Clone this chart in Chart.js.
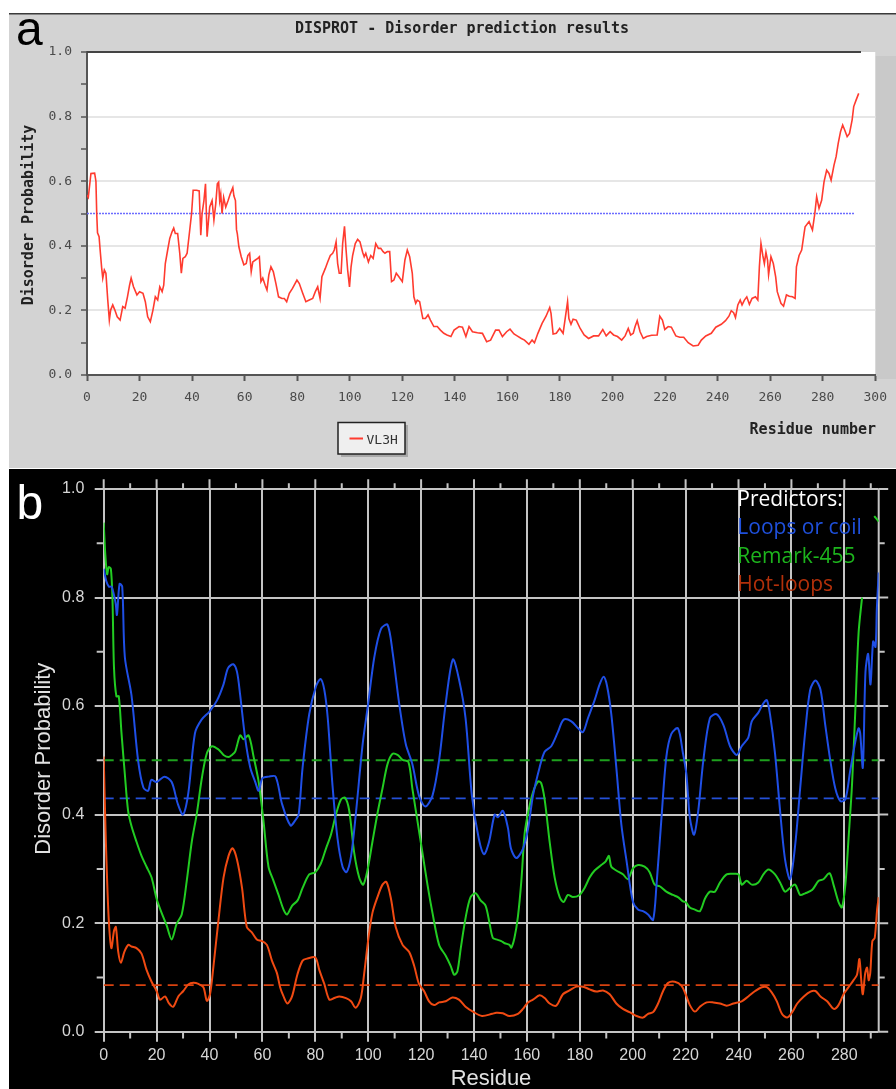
<!DOCTYPE html>
<html>
<head>
<meta charset="utf-8">
<title>Disorder prediction</title>
<script src="https://cdn.jsdelivr.net/npm/chart.js@4.4.0/dist/chart.umd.min.js"></script>
<style>
    body { margin: 0; width: 896px; height: 1089px; background: #fff; position: relative; overflow: hidden; }
    #panelA { position: absolute; left: 9px; top: 13px; }
    #panelB { position: absolute; left: 9px; top: 469px; }
</style>
</head>
<body>
<canvas id="panelA" width="887" height="455"></canvas>
<canvas id="panelB" width="887" height="620"></canvas>
<script>
// Panel a: DISPROT VL3H prediction
const vl3hResidue = [0, 0.5, 1.5, 2.9, 3.4, 3.7, 4.0, 4.6, 5.0, 5.6, 6.0, 6.6, 7.2, 7.9, 8.5, 9.0, 9.8, 10.6, 11.5, 12.6, 13.6, 14.5, 15.4, 16.2, 16.8, 17.7, 19.0, 20.0, 21.3, 22.2, 23.1, 24.1, 25.1, 26.0, 26.9, 27.7, 28.6, 29.2, 29.8, 30.7, 31.5, 32.4, 33.0, 33.6, 34.5, 35.3, 35.9, 36.5, 37.4, 38.1, 39.1, 39.8, 40.4, 41.7, 42.7, 43.3, 43.8, 44.5, 45.1, 45.7, 46.7, 47.6, 48.3, 49.0, 49.6, 50.1, 50.5, 50.9, 51.4, 52.0, 52.8, 53.7, 54.5, 55.5, 55.9, 56.5, 56.9, 57.2, 57.8, 58.7, 59.7, 60.6, 61.2, 61.9, 62.5, 63.1, 64.1, 65.0, 65.6, 66.2, 66.9, 67.8, 68.5, 69.2, 70.0, 70.9, 71.9, 72.9, 74.2, 75.1, 76.0, 77.0, 78.2, 79.9, 80.8, 82.1, 83.3, 84.6, 85.9, 86.9, 87.8, 88.7, 89.4, 90.7, 91.6, 92.6, 93.5, 94.1, 94.8, 95.4, 96.0, 96.7, 97.3, 98.0, 98.6, 99.2, 99.9, 100.5, 101.1, 102.1, 103.0, 103.9, 104.9, 105.5, 106.1, 107.1, 108.0, 108.9, 109.9, 110.9, 111.8, 112.7, 113.4, 114.3, 115.2, 115.9, 116.8, 117.7, 118.7, 120.0, 121.0, 121.9, 122.8, 123.8, 124.4, 125.1, 125.7, 126.6, 127.3, 127.8, 128.8, 129.8, 130.7, 132.0, 133.3, 134.5, 135.8, 137.0, 138.5, 139.7, 141.6, 142.9, 144.2, 145.4, 146.7, 148.6, 150.5, 152.1, 153.6, 155.5, 156.8, 158.1, 159.7, 161.0, 162.5, 163.7, 165.3, 166.5, 168.2, 169.4, 170.3, 171.6, 173.2, 174.7, 176.1, 176.6, 177.4, 178.6, 179.9, 181.2, 182.0, 182.9, 183.4, 184.2, 185.0, 186.2, 187.7, 189.2, 190.9, 192.8, 194.7, 196.3, 197.6, 199.1, 200.4, 201.9, 203.5, 204.8, 206.0, 206.9, 207.9, 208.6, 209.4, 210.5, 211.7, 213.0, 214.9, 217.0, 218.0, 219.0, 219.9, 221.2, 222.4, 224.1, 225.6, 227.1, 228.8, 230.7, 232.6, 233.8, 235.5, 237.6, 239.3, 241.4, 243.0, 244.3, 245.2, 246.1, 246.8, 247.7, 248.6, 249.3, 250.2, 251.1, 252.1, 253.1, 254.4, 255.3, 255.9, 256.5, 257.2, 257.8, 258.4, 259.0, 259.4, 260.3, 261.2, 262.1, 262.7, 264.1, 265.1, 266.2, 267.3, 268.5, 269.5, 270.0, 271.0, 272.0, 272.9, 273.3, 274.8, 276.1, 277.0, 277.7, 278.6, 279.6, 280.5, 281.5, 282.4, 283.2, 284.3, 285.1, 285.9, 286.8, 287.6, 288.4, 289.3, 290.2, 291.2, 291.8, 292.7, 293.7];
const vl3hValue = [0.557, 0.55, 0.624, 0.625, 0.60, 0.50, 0.44, 0.428, 0.387, 0.33, 0.30, 0.325, 0.315, 0.232, 0.17, 0.201, 0.217, 0.201, 0.18, 0.17, 0.212, 0.207, 0.242, 0.278, 0.30, 0.273, 0.248, 0.258, 0.253, 0.227, 0.18, 0.165, 0.201, 0.242, 0.232, 0.273, 0.258, 0.278, 0.345, 0.387, 0.423, 0.444, 0.455, 0.438, 0.438, 0.377, 0.315, 0.361, 0.366, 0.377, 0.449, 0.50, 0.572, 0.572, 0.57, 0.433, 0.50, 0.54, 0.592, 0.428, 0.52, 0.54, 0.48, 0.53, 0.592, 0.597, 0.54, 0.56, 0.50, 0.55, 0.52, 0.54, 0.56, 0.58, 0.555, 0.54, 0.45, 0.438, 0.397, 0.366, 0.341, 0.345, 0.37, 0.377, 0.32, 0.35, 0.356, 0.361, 0.366, 0.289, 0.30, 0.278, 0.263, 0.31, 0.335, 0.32, 0.283, 0.242, 0.237, 0.237, 0.227, 0.253, 0.268, 0.294, 0.283, 0.253, 0.227, 0.232, 0.237, 0.258, 0.273, 0.237, 0.304, 0.33, 0.35, 0.37, 0.377, 0.387, 0.412, 0.345, 0.315, 0.315, 0.407, 0.46, 0.387, 0.325, 0.273, 0.335, 0.37, 0.407, 0.42, 0.412, 0.38, 0.366, 0.377, 0.35, 0.37, 0.361, 0.407, 0.392, 0.392, 0.382, 0.377, 0.382, 0.382, 0.289, 0.294, 0.315, 0.304, 0.289, 0.356, 0.387, 0.366, 0.315, 0.242, 0.222, 0.232, 0.227, 0.196, 0.175, 0.175, 0.186, 0.17, 0.15, 0.15, 0.139, 0.129, 0.124, 0.119, 0.139, 0.15, 0.148, 0.119, 0.15, 0.134, 0.131, 0.129, 0.103, 0.108, 0.139, 0.139, 0.119, 0.134, 0.142, 0.127, 0.121, 0.113, 0.108, 0.095, 0.108, 0.10, 0.129, 0.16, 0.182, 0.209, 0.191, 0.127, 0.129, 0.144, 0.129, 0.175, 0.227, 0.175, 0.157, 0.173, 0.17, 0.144, 0.124, 0.113, 0.121, 0.121, 0.141, 0.121, 0.134, 0.124, 0.119, 0.108, 0.121, 0.144, 0.124, 0.129, 0.15, 0.168, 0.134, 0.113, 0.119, 0.123, 0.124, 0.182, 0.17, 0.141, 0.15, 0.148, 0.121, 0.117, 0.117, 0.10, 0.09, 0.092, 0.108, 0.121, 0.129, 0.148, 0.157, 0.168, 0.182, 0.199, 0.193, 0.178, 0.217, 0.232, 0.217, 0.232, 0.242, 0.219, 0.237, 0.242, 0.232, 0.335, 0.407, 0.37, 0.345, 0.38, 0.356, 0.31, 0.366, 0.345, 0.304, 0.258, 0.222, 0.213, 0.248, 0.244, 0.242, 0.237, 0.335, 0.37, 0.387, 0.438, 0.459, 0.475, 0.449, 0.50, 0.552, 0.516, 0.541, 0.598, 0.634, 0.624, 0.603, 0.65, 0.676, 0.717, 0.754, 0.774, 0.758, 0.738, 0.748, 0.79, 0.831, 0.851, 0.872];
const vl3hCutoffSpan = [0, 292.3];
const vl3hCutoff = [0.5, 0.5];

// Panel b: three predictors
const loopsResidue = [0, 1, 2, 3, 4.5, 5, 6, 7, 8, 10.5, 13, 15, 16.8, 18, 20, 23, 25.7, 28, 30, 32, 34.5, 37, 40, 42.8, 45.3, 47, 49, 50.4, 51.6, 53.5, 55.4, 57.3, 58.6, 60, 62.4, 65, 67.4, 70.6, 72.5, 73.7, 75.2, 77.7, 80.3, 82, 83.4, 84.7, 86.5, 88.4, 90.3, 91.8, 93.5, 95.3, 97.9, 100, 102.3, 104.8, 107.3, 109.2, 111.7, 114.2, 116.7, 119.2, 121.6, 124.3, 126.8, 129.3, 132, 134.3, 136.8, 139.2, 141.8, 143.8, 145.7, 147.8, 149, 150.9, 152.8, 154, 156, 158.5, 160.4, 162.3, 164.8, 166.7, 169.2, 171.7, 173.9, 176.8, 179.4, 181.2, 183.1, 185.6, 187.5, 189, 190.3, 191.9, 193.8, 195.7, 197.6, 200.1, 202, 203.9, 205.8, 207.7, 209, 210.8, 212.7, 214.6, 217.1, 219, 220.3, 221.6, 223.2, 224.8, 226.7, 229.2, 231.7, 234.3, 236.8, 239.3, 241.2, 243.7, 245, 247.5, 249.4, 250.7, 251.9, 253.8, 255.7, 257.6, 259.5, 261.4, 263.3, 265.2, 267.1, 269.1, 271, 272.8, 274.7, 276.6, 278.5, 280.4, 282.2, 284.1, 285.4, 286, 287, 288, 289, 289.9, 290.9, 291.8, 292.3, 293];
const loopsValue = [0.853, 0.83, 0.82, 0.82, 0.79, 0.768, 0.825, 0.82, 0.69, 0.62, 0.50, 0.45, 0.444, 0.464, 0.46, 0.47, 0.46, 0.42, 0.40, 0.44, 0.55, 0.575, 0.59, 0.61, 0.64, 0.67, 0.677, 0.663, 0.62, 0.54, 0.487, 0.46, 0.444, 0.467, 0.47, 0.47, 0.42, 0.38, 0.39, 0.40, 0.487, 0.585, 0.637, 0.65, 0.63, 0.578, 0.454, 0.356, 0.304, 0.294, 0.323, 0.40, 0.53, 0.605, 0.69, 0.742, 0.75, 0.70, 0.605, 0.53, 0.493, 0.435, 0.415, 0.435, 0.50, 0.605, 0.686, 0.65, 0.578, 0.435, 0.356, 0.327, 0.35, 0.40, 0.395, 0.407, 0.376, 0.337, 0.32, 0.337, 0.373, 0.435, 0.487, 0.516, 0.526, 0.552, 0.575, 0.572, 0.559, 0.552, 0.578, 0.611, 0.64, 0.654, 0.637, 0.585, 0.487, 0.382, 0.317, 0.239, 0.225, 0.222, 0.216, 0.206, 0.271, 0.389, 0.506, 0.549, 0.559, 0.513, 0.474, 0.395, 0.363, 0.408, 0.50, 0.578, 0.585, 0.565, 0.526, 0.51, 0.526, 0.542, 0.572, 0.588, 0.605, 0.611, 0.585, 0.513, 0.408, 0.317, 0.281, 0.343, 0.448, 0.552, 0.63, 0.647, 0.63, 0.565, 0.50, 0.448, 0.425, 0.428, 0.48, 0.533, 0.559, 0.55, 0.487, 0.663, 0.696, 0.64, 0.719, 0.709, 0.78, 0.846];

const remarkResidue = [0, 0.6, 1.3, 1.9, 2.7, 3.3, 3.9, 4.8, 5.7, 6.7, 8, 9.2, 10.5, 12.4, 14.3, 16.2, 18.1, 20, 21.9, 23.8, 25.7, 27.6, 29.5, 31.4, 33.3, 35.2, 37.1, 39, 40.9, 43.4, 45.3, 47.2, 48.5, 49.7, 51.6, 52.9, 54.8, 56.7, 58.6, 60.4, 62.3, 64.2, 66.1, 68, 69.3, 71.2, 73.3, 75.2, 77.7, 80, 82.1, 84, 85.9, 87.8, 89.7, 91.3, 92.8, 94.7, 96.6, 98.1, 99.7, 101.6, 103.5, 105.4, 107.3, 109.2, 111.1, 113, 115.2, 116.7, 118.6, 120.5, 122.4, 124.3, 126.8, 129.3, 131.2, 132.5, 133.7, 135, 136.9, 138.7, 140.6, 142.5, 144.4, 145.9, 147.1, 148.4, 150.3, 151.6, 153.4, 154.1, 155.3, 156.6, 157.9, 159.1, 160.4, 162.3, 164.2, 165.4, 166.7, 168.6, 170.5, 172.4, 173.9, 175.5, 177.4, 179.9, 181.8, 183.7, 185.6, 188.1, 189.8, 191, 191.9, 193.8, 196.3, 198.2, 200.1, 202, 204.5, 206.4, 208.3, 210.2, 212.7, 215.2, 217.1, 219, 220, 221.6, 223.5, 225.4, 227.3, 229.2, 231.1, 233, 235.5, 238.1, 240, 241.2, 243.1, 245, 247.5, 249.4, 251.3, 253.8, 255.7, 257.6, 259.5, 261.4, 263.3, 265.2, 267.8, 270.3, 272.1, 274.4, 275.9, 277.8, 279.1, 280.4, 281.6, 282.9, 284.1, 285.4, 286.7, 289, 291.3, 292.2, 293];
const remarkValue = [0.938, 0.88, 0.843, 0.856, 0.853, 0.80, 0.67, 0.618, 0.618, 0.552, 0.474, 0.408, 0.379, 0.35, 0.324, 0.304, 0.284, 0.245, 0.219, 0.196, 0.17, 0.199, 0.216, 0.278, 0.35, 0.402, 0.467, 0.513, 0.526, 0.52, 0.51, 0.506, 0.51, 0.516, 0.546, 0.539, 0.546, 0.506, 0.46, 0.389, 0.304, 0.278, 0.252, 0.225, 0.216, 0.232, 0.242, 0.265, 0.29, 0.294, 0.31, 0.337, 0.363, 0.40, 0.428, 0.431, 0.408, 0.33, 0.284, 0.271, 0.297, 0.35, 0.402, 0.448, 0.493, 0.512, 0.51, 0.501, 0.497, 0.448, 0.389, 0.33, 0.271, 0.219, 0.16, 0.14, 0.121, 0.105, 0.111, 0.154, 0.212, 0.248, 0.255, 0.242, 0.232, 0.199, 0.173, 0.17, 0.167, 0.163, 0.16, 0.155, 0.173, 0.212, 0.278, 0.363, 0.402, 0.441, 0.461, 0.458, 0.428, 0.35, 0.284, 0.248, 0.239, 0.252, 0.248, 0.252, 0.265, 0.284, 0.297, 0.307, 0.314, 0.324, 0.304, 0.297, 0.29, 0.281, 0.301, 0.307, 0.304, 0.294, 0.271, 0.268, 0.258, 0.252, 0.248, 0.24, 0.239, 0.229, 0.225, 0.222, 0.245, 0.258, 0.258, 0.275, 0.29, 0.291, 0.29, 0.271, 0.278, 0.271, 0.275, 0.29, 0.299, 0.29, 0.275, 0.258, 0.265, 0.271, 0.252, 0.255, 0.261, 0.278, 0.281, 0.292, 0.271, 0.239, 0.229, 0.271, 0.356, 0.454, 0.585, 0.735, 0.80, null, 0.95, 0.945, 0.94];

const hotResidue = [0, 0.6, 1.3, 2, 2.9, 3.9, 4.6, 5.5, 6.5, 7.8, 9.3, 10.5, 12.4, 14.3, 16.2, 18.1, 20, 21.3, 23.2, 24.7, 26.3, 28.2, 30.1, 32, 33.9, 35.8, 37.7, 39, 40.2, 41.5, 43.4, 45.3, 47.2, 48.7, 50.4, 52.3, 54.1, 56, 57.9, 59.8, 61.7, 63.6, 65.5, 66.7, 68, 69.5, 71.2, 73.2, 75.2, 77.1, 80, 81.5, 83.4, 85.3, 87.2, 89.1, 91.6, 93.5, 95.3, 97.2, 98.5, 100.1, 101.6, 103.5, 105.4, 106.9, 108.6, 110.4, 113, 115.5, 117.4, 119.2, 121.1, 123, 124.9, 126.8, 129.3, 131.8, 134.3, 136.8, 139.9, 143, 146.9, 148.4, 150.9, 153.4, 156.6, 158.5, 160.4, 162.3, 164.8, 166.7, 168.6, 171.1, 173.6, 176.1, 178.7, 181.2, 183.7, 186.2, 188.8, 191.3, 193.8, 196.3, 198.8, 201.4, 203.9, 205.8, 207.7, 209.6, 211.5, 213.4, 215.9, 218.4, 220, 221.6, 223.5, 225.4, 228, 230.5, 233, 235.5, 238.1, 241.2, 243.7, 246.3, 248.8, 250.7, 252.6, 254.5, 256.4, 258.4, 260.3, 262.2, 264.7, 267.2, 269.1, 271, 273.5, 276, 277.8, 279.7, 281.6, 283.5, 284.8, 285.7, 286.4, 287, 287.9, 288.6, 289.2, 289.8, 290.6, 291.5, 292.4, 293];
const hotValue = [0.507, 0.389, 0.278, 0.199, 0.154, 0.186, 0.193, 0.147, 0.127, 0.147, 0.16, 0.157, 0.154, 0.144, 0.114, 0.092, 0.075, 0.059, 0.065, 0.052, 0.046, 0.065, 0.075, 0.087, 0.09, 0.088, 0.082, 0.057, 0.069, 0.121, 0.206, 0.284, 0.324, 0.338, 0.317, 0.265, 0.193, 0.183, 0.17, 0.167, 0.16, 0.131, 0.108, 0.082, 0.065, 0.052, 0.065, 0.105, 0.131, 0.135, 0.137, 0.114, 0.088, 0.059, 0.062, 0.065, 0.062, 0.056, 0.044, 0.062, 0.108, 0.173, 0.219, 0.248, 0.271, 0.276, 0.245, 0.193, 0.16, 0.147, 0.121, 0.088, 0.075, 0.056, 0.049, 0.054, 0.056, 0.063, 0.059, 0.046, 0.036, 0.029, 0.033, 0.035, 0.034, 0.029, 0.033, 0.042, 0.054, 0.059, 0.067, 0.062, 0.052, 0.048, 0.069, 0.076, 0.083, 0.083, 0.078, 0.074, 0.076, 0.069, 0.052, 0.042, 0.036, 0.029, 0.026, 0.033, 0.036, 0.052, 0.075, 0.09, 0.092, 0.085, 0.069, 0.049, 0.037, 0.046, 0.054, 0.054, 0.052, 0.048, 0.052, 0.056, 0.065, 0.075, 0.082, 0.082, 0.072, 0.056, 0.033, 0.026, 0.036, 0.052, 0.065, 0.074, 0.075, 0.065, 0.056, 0.042, 0.049, 0.069, 0.082, 0.095, 0.105, 0.134, 0.095, 0.069, 0.108, 0.118, 0.095, 0.108, 0.167, 0.173, 0.225, 0.248];

const cutoffSpan = [0, 293];
const loopsCutoff = [0.43, 0.43];
const remarkCutoff = [0.5, 0.5];
const hotCutoff = [0.086, 0.086];

const predictorNames = ['Loops or coil', 'Remark-455', 'Hot-loops'];
const predictorText = ['#1f50dc', '#1db51d', '#b3300a'];

const toPoints = (xs, ys) => xs.map((x, i) => ({ x: x, y: ys[i] }));

const monoFont = 'DejaVu Sans Mono';
const sansFont = 'Liberation Sans';

// grey frame, white plot box, title, axis names and legend for panel a
const frameA = {
    id: 'frameA',
    beforeDraw(chart) {
        const { ctx, chartArea: a, width, height } = chart;
        ctx.save();
        ctx.fillStyle = '#d3d3d3';
        ctx.fillRect(0, 0, width, height);
        ctx.fillStyle = '#3a3a3a';
        ctx.fillRect(0, 0, width, 1.5);
        ctx.fillStyle = '#c9c9c9';
        ctx.fillRect(a.right, a.top + 4, width - a.right, a.bottom - a.top);
        ctx.fillStyle = '#ffffff';
        ctx.fillRect(a.left, a.top, a.right - a.left, a.bottom - a.top);
        ctx.restore();
    },
    afterDraw(chart) {
        const { ctx, chartArea: a } = chart;
        ctx.save();
        ctx.fillStyle = '#444';
        ctx.fillRect(a.left, a.top - 1, 852 - a.left, 2);

        ctx.fillStyle = '#000';
        ctx.font = '48px "' + sansFont + '"';
        ctx.textBaseline = 'alphabetic';
        ctx.textAlign = 'left';
        ctx.fillText('a', 7, 32);

        ctx.fillStyle = '#222';
        ctx.font = 'bold 15px "' + monoFont + '"';
        ctx.textAlign = 'center';
        ctx.fillText('DISPROT - Disorder prediction results', 453, 19.5);

        ctx.textAlign = 'right';
        ctx.fillText('Residue number', 867, 420.5);

        ctx.save();
        ctx.translate(23.5, 202);
        ctx.rotate(-Math.PI / 2);
        ctx.textAlign = 'center';
        ctx.fillText('Disorder Probability', 0, 0);
        ctx.restore();

        // legend box with drop shadow
        ctx.fillStyle = '#a8a8a8';
        ctx.fillRect(332, 412, 67, 32);
        ctx.fillStyle = '#efefef';
        ctx.fillRect(329, 409.5, 67, 31.5);
        ctx.strokeStyle = '#222';
        ctx.lineWidth = 1.5;
        ctx.strokeRect(329, 409.5, 67, 31.5);
        ctx.strokeStyle = '#ff3b2f';
        ctx.lineWidth = 2;
        ctx.beginPath();
        ctx.moveTo(340.5, 425.5);
        ctx.lineTo(354, 425.5);
        ctx.stroke();
        ctx.fillStyle = '#333';
        ctx.font = '13px "' + monoFont + '"';
        ctx.textAlign = 'left';
        ctx.fillText('VL3H', 357.5, 431);
        ctx.restore();
    }
};

new Chart(document.getElementById('panelA'), {
    type: 'line',
    data: {
        datasets: [{
            label: 'VL3H',
            data: toPoints(vl3hResidue, vl3hValue),
            borderColor: '#ff3b2f',
            borderWidth: 1.6,
            pointRadius: 0,
            tension: 0
        }, {
            label: 'cutoff',
            data: toPoints(vl3hCutoffSpan, vl3hCutoff),
            borderColor: '#6c6cff',
            borderWidth: 1.5,
            borderDash: [2, 1],
            pointRadius: 0
        }]
    },
    options: {
        responsive: false,
        animation: false,
        layout: { padding: { left: 0, top: 39, right: 17.3, bottom: 0 } },
        plugins: { legend: { display: false }, tooltip: { enabled: false } },
        scales: {
            x: {
                type: 'linear', min: 0, max: 300,
                ticks: { stepSize: 20, autoSkip: false, maxRotation: 0, padding: 9, color: '#4a4a4a',
                    font: { family: monoFont, size: 13 } },
                grid: { drawOnChartArea: false, tickLength: 6, tickColor: '#555', tickWidth: 2 },
                border: { color: '#555', width: 2 },
                afterFit(s) { s.height = 93; }
            },
            y: {
                min: 0, max: 1,
                ticks: { stepSize: 0.1, autoSkip: false, padding: 9, color: '#4a4a4a',
                    font: { family: monoFont, size: 13 },
                    callback: v => (Math.round(v * 10) % 2 === 0 ? v.toFixed(1) : '') },
                grid: {
                    color: c => {
                        const k = Math.round(c.tick.value * 10);
                        return (k % 2 === 0 && k > 0 && k < 10) ? '#e6e6e6' : 'rgba(0,0,0,0)';
                    },
                    lineWidth: 2, tickLength: 6, tickColor: '#555', tickWidth: 1.5
                },
                border: { color: '#555', width: 2 },
                afterFit(s) { s.width = 78; }
            }
        }
    },
    plugins: [frameA]
});

// black frame, extra ticks, axis names and predictor key for panel b
const gridGrey = '#c4c4c4';
const frameB = {
    id: 'frameB',
    beforeDraw(chart) {
        const { ctx, width, height } = chart;
        ctx.save();
        ctx.fillStyle = '#000';
        ctx.fillRect(0, 0, width, height);
        ctx.restore();
    },
    beforeDatasetsDraw(chart) {
        const { ctx, chartArea: a, scales: { x, y } } = chart;
        ctx.save();
        ctx.strokeStyle = gridGrey;
        ctx.lineWidth = 2;
        ctx.beginPath();
        for (let r = 0; r <= 290; r += 10) {
            const px = x.getPixelForValue(r);
            if (r % 20 === 0) {
                ctx.moveTo(px, a.top - 9.7);
                ctx.lineTo(px, a.top);
            } else {
                ctx.moveTo(px, a.top - 5.7);
                ctx.lineTo(px, a.top);
                ctx.moveTo(px, a.bottom);
                ctx.lineTo(px, a.bottom + 6.7);
            }
        }
        const edge = x.getPixelForValue(293);
        ctx.moveTo(edge, a.top);
        ctx.lineTo(edge, a.bottom);
        for (let k = 0; k <= 10; k++) {
            const py = y.getPixelForValue(k / 10);
            if (k % 2 === 0) {
                ctx.moveTo(a.right, py);
                ctx.lineTo(a.right + 9.5, py);
            } else {
                ctx.moveTo(a.left - 7, py);
                ctx.lineTo(a.left, py);
                ctx.moveTo(a.right, py);
                ctx.lineTo(a.right + 6, py);
            }
        }
        ctx.stroke();
        ctx.restore();
    },
    afterDraw(chart) {
        const { ctx } = chart;
        ctx.save();
        ctx.fillStyle = '#fff';
        ctx.font = '48px "' + sansFont + '"';
        ctx.textAlign = 'left';
        ctx.textBaseline = 'alphabetic';
        ctx.fillText('b', 7.5, 50);

        ctx.fillStyle = '#e2e2e2';
        ctx.font = '22px "' + sansFont + '"';
        ctx.textAlign = 'center';
        ctx.fillText('Residue', 482, 616);
        ctx.save();
        ctx.translate(41, 289.7);
        ctx.rotate(-Math.PI / 2);
        ctx.fillText('Disorder Probability', 0, 0);
        ctx.restore();

        ctx.textAlign = 'left';
        ctx.font = '21px "Open Sans"';
        ctx.fillStyle = '#fff';
        ctx.fillText('Predictors:', 728.3, 37);
        predictorNames.forEach((name, i) => {
            ctx.fillStyle = predictorText[i];
            ctx.fillText(name, 728.3, 65.3 + i * 28.3);
        });
        ctx.restore();
    }
};

new Chart(document.getElementById('panelB'), {
    type: 'line',
    data: {
        datasets: [{
            label: predictorNames[0],
            data: toPoints(loopsResidue, loopsValue),
            borderColor: '#1f4fe6',
            borderWidth: 2,
            pointRadius: 0,
            tension: 0.3
        }, {
            label: predictorNames[1],
            data: toPoints(remarkResidue, remarkValue),
            borderColor: '#22cc22',
            borderWidth: 2,
            pointRadius: 0,
            tension: 0.3,
            spanGaps: false
        }, {
            label: predictorNames[2],
            data: toPoints(hotResidue, hotValue),
            borderColor: '#f04a12',
            borderWidth: 2,
            pointRadius: 0,
            tension: 0.3
        }, {
            label: 'Loops cutoff',
            data: toPoints(cutoffSpan, loopsCutoff),
            borderColor: '#2450d8',
            borderWidth: 1.6,
            borderDash: [10, 6],
            pointRadius: 0
        }, {
            label: 'Remark cutoff',
            data: toPoints(cutoffSpan, remarkCutoff),
            borderColor: '#1ea01e',
            borderWidth: 2,
            borderDash: [10, 6],
            pointRadius: 0
        }, {
            label: 'Hot cutoff',
            data: toPoints(cutoffSpan, hotCutoff),
            borderColor: '#d8420f',
            borderWidth: 1.8,
            borderDash: [10, 6],
            pointRadius: 0
        }]
    },
    options: {
        responsive: false,
        animation: false,
        layout: { padding: { left: 0, top: 16.7, right: 17.3, bottom: 0 } },
        plugins: { legend: { display: false }, tooltip: { enabled: false } },
        scales: {
            x: {
                type: 'linear', min: 0, max: 293,
                ticks: { stepSize: 20, includeBounds: false, autoSkip: false, maxRotation: 0, padding: 4,
                    color: '#d6d6d6', font: { family: sansFont, size: 16 } },
                grid: { color: gridGrey, lineWidth: 2, tickLength: 10 },
                border: { display: false },
                afterFit(s) { s.height = 57.3; }
            },
            y: {
                min: 0, max: 1,
                ticks: { stepSize: 0.2, autoSkip: false, padding: 10.4, color: '#d6d6d6',
                    font: { family: sansFont, size: 16 }, callback: v => v.toFixed(1) },
                grid: { color: gridGrey, lineWidth: 2, tickLength: 9 },
                border: { display: false },
                afterFit(s) { s.width = 94.7; }
            }
        }
    },
    plugins: [frameB]
});
</script>
</body>
</html>
